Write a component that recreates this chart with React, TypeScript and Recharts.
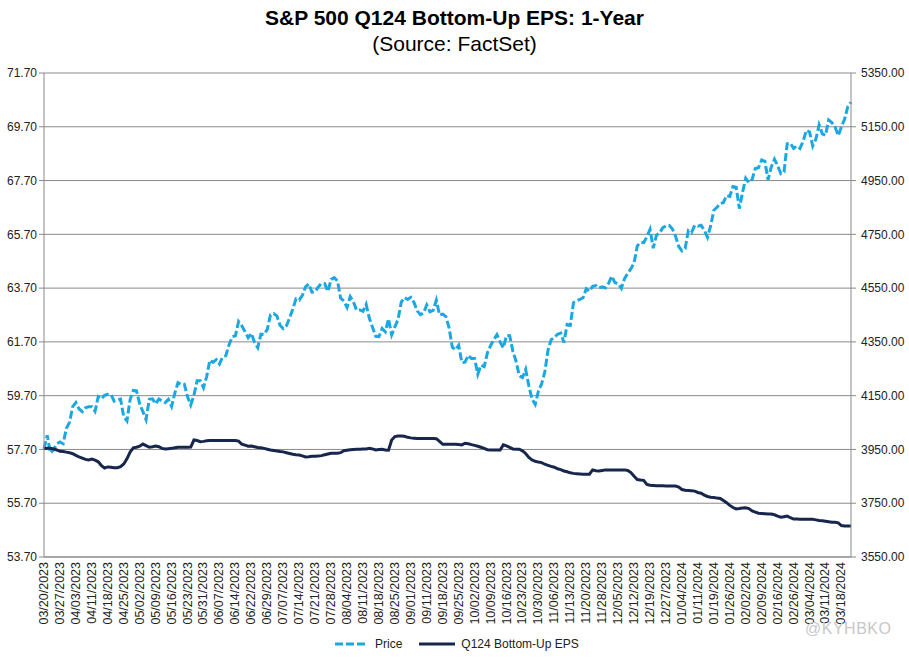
import React from "react";
import { ComposedChart, Line, XAxis, YAxis, CartesianGrid } from "recharts";

const dates = [
"03/20/2023","03/21/2023","03/22/2023","03/23/2023","03/24/2023","03/27/2023","03/28/2023","03/29/2023","03/30/2023","03/31/2023",
"04/03/2023","04/04/2023","04/05/2023","04/06/2023","04/10/2023","04/11/2023","04/12/2023","04/13/2023","04/14/2023","04/17/2023","04/18/2023","04/19/2023","04/20/2023","04/21/2023","04/24/2023","04/25/2023","04/26/2023","04/27/2023","04/28/2023",
"05/01/2023","05/02/2023","05/03/2023","05/04/2023","05/05/2023","05/08/2023","05/09/2023","05/10/2023","05/11/2023","05/12/2023","05/15/2023","05/16/2023","05/17/2023","05/18/2023","05/19/2023","05/22/2023","05/23/2023","05/24/2023","05/25/2023","05/26/2023","05/30/2023","05/31/2023",
"06/01/2023","06/02/2023","06/05/2023","06/06/2023","06/07/2023","06/08/2023","06/09/2023","06/12/2023","06/13/2023","06/14/2023","06/15/2023","06/16/2023","06/20/2023","06/21/2023","06/22/2023","06/23/2023","06/26/2023","06/27/2023","06/28/2023","06/29/2023","06/30/2023",
"07/03/2023","07/05/2023","07/06/2023","07/07/2023","07/10/2023","07/11/2023","07/12/2023","07/13/2023","07/14/2023","07/17/2023","07/18/2023","07/19/2023","07/20/2023","07/21/2023","07/24/2023","07/25/2023","07/26/2023","07/27/2023","07/28/2023","07/31/2023",
"08/01/2023","08/02/2023","08/03/2023","08/04/2023","08/07/2023","08/08/2023","08/09/2023","08/10/2023","08/11/2023","08/14/2023","08/15/2023","08/16/2023","08/17/2023","08/18/2023","08/21/2023","08/22/2023","08/23/2023","08/24/2023","08/25/2023","08/28/2023","08/29/2023","08/30/2023","08/31/2023",
"09/01/2023","09/05/2023","09/06/2023","09/07/2023","09/08/2023","09/11/2023","09/12/2023","09/13/2023","09/14/2023","09/15/2023","09/18/2023","09/19/2023","09/20/2023","09/21/2023","09/22/2023","09/25/2023","09/26/2023","09/27/2023","09/28/2023","09/29/2023",
"10/02/2023","10/03/2023","10/04/2023","10/05/2023","10/06/2023","10/09/2023","10/10/2023","10/11/2023","10/12/2023","10/13/2023","10/16/2023","10/17/2023","10/18/2023","10/19/2023","10/20/2023","10/23/2023","10/24/2023","10/25/2023","10/26/2023","10/27/2023","10/30/2023","10/31/2023",
"11/01/2023","11/02/2023","11/03/2023","11/06/2023","11/07/2023","11/08/2023","11/09/2023","11/10/2023","11/13/2023","11/14/2023","11/15/2023","11/16/2023","11/17/2023","11/20/2023","11/21/2023","11/22/2023","11/24/2023","11/27/2023","11/28/2023","11/29/2023","11/30/2023",
"12/01/2023","12/04/2023","12/05/2023","12/06/2023","12/07/2023","12/08/2023","12/11/2023","12/12/2023","12/13/2023","12/14/2023","12/15/2023","12/18/2023","12/19/2023","12/20/2023","12/21/2023","12/22/2023","12/26/2023","12/27/2023","12/28/2023","12/29/2023",
"01/02/2024","01/03/2024","01/04/2024","01/05/2024","01/08/2024","01/09/2024","01/10/2024","01/11/2024","01/12/2024","01/16/2024","01/17/2024","01/18/2024","01/19/2024","01/22/2024","01/23/2024","01/24/2024","01/25/2024","01/26/2024","01/29/2024","01/30/2024","01/31/2024",
"02/01/2024","02/02/2024","02/05/2024","02/06/2024","02/07/2024","02/08/2024","02/09/2024","02/12/2024","02/13/2024","02/14/2024","02/15/2024","02/16/2024","02/20/2024","02/21/2024","02/22/2024","02/23/2024","02/26/2024","02/27/2024","02/28/2024","02/29/2024",
"03/01/2024","03/04/2024","03/05/2024","03/06/2024","03/07/2024","03/08/2024","03/11/2024","03/12/2024","03/13/2024","03/14/2024","03/15/2024","03/18/2024","03/19/2024","03/20/2024","03/21/2024"
];

const priceValues = [
3951.57,4002.87,3936.97,3948.72,3970.99,3977.53,3971.27,4027.81,4050.83,4109.31,
4124.51,4100.60,4090.38,4105.02,4109.11,4108.94,4091.95,4146.22,4137.64,4151.32,4154.87,4154.52,4129.79,4133.52,4137.04,4071.63,4055.99,4135.35,4169.48,
4167.87,4119.58,4090.75,4061.22,4136.25,4138.12,4119.17,4137.64,4130.62,4124.08,4136.28,4109.90,4158.77,4198.05,4191.98,4192.63,4145.58,4115.24,4151.28,4205.45,4205.52,4179.83,
4221.02,4282.37,4273.79,4283.85,4267.52,4293.93,4298.86,4338.93,4369.01,4372.59,4425.84,4409.59,4388.71,4365.69,4381.89,4348.33,4328.82,4378.41,4376.86,4396.44,4450.38,
4455.59,4446.82,4411.59,4398.95,4409.53,4439.26,4472.16,4510.04,4505.42,4522.79,4554.98,4565.72,4534.87,4536.34,4554.64,4567.46,4566.75,4537.41,4582.23,4588.96,
4576.73,4513.39,4501.89,4478.03,4518.44,4499.38,4467.71,4468.83,4464.05,4489.72,4437.86,4404.33,4370.36,4369.71,4399.77,4387.55,4436.01,4376.31,4405.71,4433.31,4497.63,4514.87,4507.66,
4515.77,4496.83,4465.48,4451.14,4457.49,4487.46,4461.90,4467.44,4505.10,4450.32,4453.53,4443.95,4402.20,4330.00,4320.06,4337.44,4273.53,4274.51,4299.70,4288.05,
4288.39,4229.45,4263.75,4258.19,4308.50,4335.66,4358.24,4376.95,4349.61,4327.78,4373.63,4373.20,4314.60,4278.00,4224.16,4217.04,4247.68,4186.77,4137.23,4117.37,4166.82,4193.80,
4237.86,4317.78,4358.34,4365.98,4378.38,4382.78,4347.35,4415.24,4411.55,4495.70,4502.88,4508.24,4514.02,4547.38,4538.19,4556.62,4559.34,4550.43,4554.89,4550.58,4567.80,
4594.63,4569.78,4567.18,4549.34,4585.59,4604.37,4622.44,4643.70,4707.09,4719.55,4719.19,4740.56,4768.37,4698.35,4746.75,4754.63,4774.75,4781.58,4783.35,4769.83,
4742.83,4704.81,4688.68,4697.24,4763.54,4756.50,4783.45,4780.24,4783.83,4765.98,4739.21,4780.94,4839.81,4850.43,4864.60,4868.55,4894.16,4890.97,4927.93,4924.97,4845.65,
4906.19,4958.61,4942.81,4954.23,4995.06,4997.91,5026.61,5021.84,4953.17,5000.62,5029.73,5005.57,4975.51,4981.80,5087.03,5088.80,5069.53,5078.18,5069.76,5096.27,
5137.08,5130.95,5078.65,5104.76,5157.36,5123.69,5117.94,5175.27,5165.31,5150.48,5117.09,5149.42,5178.51,5224.62,5241.53
];

const epsValues = [
57.73,57.74,57.74,57.72,57.68,57.63,57.62,57.60,57.58,57.54,
57.48,57.42,57.38,57.33,57.31,57.34,57.30,57.24,57.10,57.01,
57.05,57.04,57.02,57.02,57.06,57.16,57.35,57.60,57.76,57.78,
57.82,57.90,57.84,57.78,57.80,57.83,57.80,57.74,57.72,57.73,
57.74,57.76,57.78,57.78,57.78,57.78,57.79,58.05,58.03,57.99,
58.00,58.02,58.03,58.03,58.03,58.03,58.03,58.03,58.03,58.03,
58.03,58.01,57.90,57.86,57.82,57.83,57.80,57.77,57.76,57.74,
57.71,57.68,57.66,57.64,57.62,57.61,57.58,57.55,57.52,57.50,
57.49,57.46,57.42,57.43,57.45,57.45,57.46,57.47,57.50,57.53,
57.56,57.56,57.56,57.58,57.65,57.67,57.69,57.70,57.71,57.71,
57.72,57.72,57.74,57.72,57.68,57.70,57.71,57.68,57.67,58.05,
58.18,58.20,58.20,58.19,58.15,58.13,58.12,58.11,58.11,58.11,
58.11,58.11,58.11,58.10,58.00,57.89,57.89,57.89,57.89,57.89,
57.88,57.87,57.93,57.91,57.88,57.85,57.82,57.78,57.74,57.69,
57.68,57.68,57.68,57.68,57.87,57.83,57.78,57.72,57.71,57.71,
57.65,57.55,57.40,57.31,57.26,57.23,57.21,57.15,57.11,57.07,
57.04,56.98,56.95,56.90,56.87,56.83,56.81,56.80,56.79,56.78,
56.78,56.78,56.94,56.91,56.90,56.92,56.94,56.94,56.94,56.94,
56.94,56.94,56.94,56.92,56.84,56.70,56.58,56.56,56.55,56.40,
56.37,56.36,56.35,56.35,56.35,56.34,56.34,56.34,56.34,56.30,
56.21,56.18,56.17,56.16,56.15,56.10,56.07,56.00,55.95,55.92,
55.91,55.89,55.88,55.80,55.72,55.62,55.54,55.49,55.50,55.52,
55.53,55.50,55.41,55.37,55.33,55.32,55.31,55.30,55.30,55.27,
55.22,55.18,55.20,55.22,55.16,55.11,55.11,55.10,55.10,55.10,
55.10,55.10,55.08,55.06,55.05,55.03,55.01,54.99,54.99,54.97,
54.87,54.85,54.85,54.85
];

const epsTicks = [53.7, 55.7, 57.7, 59.7, 61.7, 63.7, 65.7, 67.7, 69.7, 71.7];
const priceTicks = [3550, 3750, 3950, 4150, 4350, 4550, 4750, 4950, 5150, 5350];

const data = dates.map((d, i) => ({ date: d, price: priceValues[i], eps: epsValues[i] }));

const FONT = "Arial, 'Liberation Sans', sans-serif";
const PRICE_COLOR = "#1AA7E2";
const EPS_COLOR = "#17264D";
const GRID = "#8A8A8A";

const DateTick = (props: any) => {
  const { x, y, payload } = props;
  return (
    <text
      x={x}
      y={y}
      transform={`rotate(-90 ${x} ${y})`}
      textAnchor="end"
      dominantBaseline="central"
      fontSize={12.5}
      fontFamily={FONT}
      fill="#222"
    >
      {payload.value}
    </text>
  );
};

export default function App() {
  return (
    <div style={{ position: "absolute", left: 0, top: 0, width: 909, height: 661, background: "#fff", fontFamily: FONT }}>
      <div style={{ position: "absolute", left: 0, top: 5, width: 909, textAlign: "center", fontSize: 21, fontWeight: "bold", lineHeight: "26px", color: "#000" }}>
        S&amp;P 500 Q124 Bottom-Up EPS: 1-Year
      </div>
      <div style={{ position: "absolute", left: 0, top: 31, width: 909, textAlign: "center", fontSize: 21, lineHeight: "26px", color: "#000" }}>
        (Source: FactSet)
      </div>
      <ComposedChart width={909} height={661} data={data} margin={{ top: 73, right: 8, bottom: 34, left: 4 }}>
        <CartesianGrid yAxisId="eps" vertical={false} stroke={GRID} strokeWidth={1} />
        <XAxis
          dataKey="date"
          interval={4}
          tick={<DateTick />}
          tickLine={false}
          tickSize={0}
          tickMargin={5}
          height={70}
          axisLine={{ stroke: GRID }}
        />
        <YAxis
          yAxisId="eps"
          orientation="left"
          domain={[53.7, 71.7]}
          ticks={epsTicks}
          interval={0}
          width={40}
          tickFormatter={(v: number) => v.toFixed(2)}
          tick={{ fontSize: 12, fontFamily: FONT, fill: "#222" }}
          tickSize={5}
          tickMargin={2}
          tickLine={{ stroke: GRID }}
          axisLine={{ stroke: GRID }}
        />
        <YAxis
          yAxisId="price"
          orientation="right"
          domain={[3550, 5350]}
          ticks={priceTicks}
          interval={0}
          width={50}
          tickFormatter={(v: number) => v.toFixed(2)}
          tick={{ fontSize: 12, fontFamily: FONT, fill: "#222" }}
          tickSize={5}
          tickMargin={5}
          tickLine={{ stroke: GRID }}
          axisLine={{ stroke: GRID }}
        />
        <Line
          yAxisId="price"
          dataKey="price"
          type="linear"
          stroke={PRICE_COLOR}
          strokeWidth={3}
          strokeDasharray="8 3"
          dot={false}
          isAnimationActive={false}
        />
        <Line
          yAxisId="eps"
          dataKey="eps"
          type="linear"
          stroke={EPS_COLOR}
          strokeWidth={3}
          dot={false}
          isAnimationActive={false}
        />
      </ComposedChart>
      <div style={{ position: "absolute", left: 334, top: 636, height: 16, display: "flex", alignItems: "center", fontSize: 12, color: "#222" }}>
        <svg width={34} height={16} style={{ marginRight: 7 }}>
          <line x1={1} y1={8} x2={33} y2={8} stroke={PRICE_COLOR} strokeWidth={3} strokeDasharray="8 3" />
        </svg>
        <span style={{ marginRight: 17 }}>Price</span>
        <svg width={36} height={16} style={{ marginRight: 6 }}>
          <line x1={0} y1={8} x2={36} y2={8} stroke={EPS_COLOR} strokeWidth={3} />
        </svg>
        <span>Q124 Bottom-Up EPS</span>
      </div>
      <div style={{ position: "absolute", left: 805, top: 620, fontSize: 16, color: "#c8c8c8", letterSpacing: 0.5 }}>
        @KYHBKO
      </div>
    </div>
  );
}
